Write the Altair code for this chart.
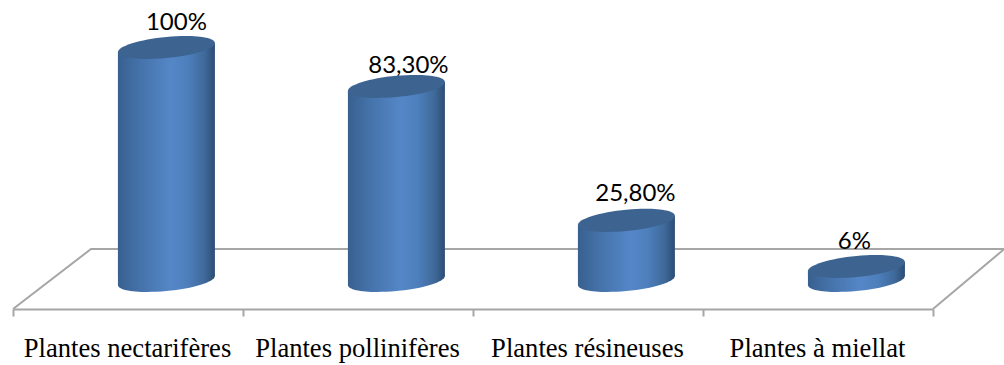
import altair as alt
import pandas as pd

# Chart values
categories = ["Plantes nectarifères", "Plantes pollinifères", "Plantes résineuses", "Plantes à miellat"]
values = [100, 83.3, 25.8, 6]
value_labels = ["100%", "83,30%", "25,80%", "6%"]

# Pseudo-3D geometry, in axis units (one category = 1 on x, one percent = 1 on y)
PLOT_W, PLOT_H = 920, 309
UNIT_X = PLOT_W / 4
UNIT_Y = 2.33
Y_MIN, Y_MAX = -28.5 / UNIT_Y, 280.5 / UNIT_Y
CENTER = 0.667
RADIUS = 48.5 / UNIT_X
TILT = 4.5 / UNIT_Y
FLOOR_DX, FLOOR_BACK, FLOOR_RIGHT = 78 / UNIT_X, 31.5 / UNIT_Y, 4.31

LINE_GREY = "#a6a6a6"
CAP_BLUE = "#3d6491"


def tilted_ellipse_path(tilt=4.5 / 48.5, minor=10.6 / 48.5, k=0.5523):
    """Cylinder cap as a sheared ellipse, in the unit box used by custom symbols."""
    def pt(cx, sy):
        return f"{cx:.4f},{minor * sy - tilt * cx:.4f}"
    return (
        f"M{pt(1, 0)}C{pt(1, k)} {pt(k, 1)} {pt(0, 1)}"
        f"C{pt(-k, 1)} {pt(-1, k)} {pt(-1, 0)}"
        f"C{pt(-1, -k)} {pt(-k, -1)} {pt(0, -1)}"
        f"C{pt(k, -1)} {pt(1, -k)} {pt(1, 0)}Z"
    )


CAP_SHAPE = tilted_ellipse_path()
CAP_SIZE = 97 ** 2

side_gradient = alt.Gradient(
    gradient="linear", x1=0, x2=1, y1=0, y2=0,
    stops=[
        alt.GradientStop(color="#38608f", offset=0),
        alt.GradientStop(color="#4472a9", offset=0.22),
        alt.GradientStop(color="#5587c8", offset=0.55),
        alt.GradientStop(color="#4d7fbc", offset=0.72),
        alt.GradientStop(color="#3e6898", offset=0.9),
        alt.GradientStop(color="#2c4c74", offset=1),
    ],
)

centers = [i + CENTER for i in range(len(categories))]
cyl = pd.DataFrame({"cat": categories, "value": values, "cx": centers, "base": [0] * 4})

# Side wall: a parallelogram per cylinder, following the tilt of the caps
side_rows = []
for name, value, cx in zip(categories, values, centers):
    side_rows.append({"cat": name, "x": cx - RADIUS, "top": value - TILT, "bottom": -TILT})
    side_rows.append({"cat": name, "x": cx + RADIUS, "top": value + TILT, "bottom": TILT})
sides = pd.DataFrame(side_rows)

x_q = alt.X("x:Q", scale=alt.Scale(domain=[0, 4]), axis=None)
y_q = alt.Y("y:Q", scale=alt.Scale(domain=[Y_MIN, Y_MAX]), axis=None)

# Floor of the 3D box: left edge, back edge, right edge
floor = pd.DataFrame({
    "x": [0, FLOOR_DX, FLOOR_RIGHT, 4],
    "y": [Y_MIN, FLOOR_BACK, FLOOR_BACK, Y_MIN],
    "order": [0, 1, 2, 3],
})
floor_layer = alt.Chart(floor).mark_line(color=LINE_GREY, strokeWidth=2, clip=False).encode(
    x=x_q, y=y_q, order="order:Q"
)

# Band axis holding the category labels and the ticks between categories
axis_layer = alt.Chart(pd.DataFrame({"cat": categories})).mark_bar(opacity=0).encode(
    x=alt.X(
        "cat:N",
        sort=categories,
        scale=alt.Scale(type="band", domain=categories, paddingInner=0, paddingOuter=0),
        axis=alt.Axis(
            title=None, orient="bottom", labelAngle=0, tickBand="extent",
            domainColor=LINE_GREY, domainWidth=2, tickColor=LINE_GREY, tickWidth=2, tickSize=7,
            labelFont="Liberation Serif", labelFontSize=26.6, labelColor="#000000",
            labelPadding=40.5, labelOffset=-1, labelLimit=300, labelBaseline="alphabetic",
        ),
    )
)

side_layer = alt.Chart(sides).mark_area(fill=side_gradient, strokeWidth=0, clip=False).encode(
    x=x_q,
    y=alt.Y("top:Q", scale=alt.Scale(domain=[Y_MIN, Y_MAX]), axis=None, stack=None),
    y2="bottom:Q",
    detail="cat:N",
)

bottom_caps = alt.Chart(cyl).mark_point(
    shape=CAP_SHAPE, size=CAP_SIZE, filled=True, fill=side_gradient, strokeWidth=0, opacity=1
).encode(
    x=alt.X("cx:Q", scale=alt.Scale(domain=[0, 4]), axis=None),
    y=alt.Y("base:Q", scale=alt.Scale(domain=[Y_MIN, Y_MAX]), axis=None),
)

top_caps = alt.Chart(cyl).mark_point(
    shape=CAP_SHAPE, size=CAP_SIZE, filled=True, fill=CAP_BLUE, strokeWidth=0, opacity=1
).encode(
    x=alt.X("cx:Q", scale=alt.Scale(domain=[0, 4]), axis=None),
    y=alt.Y("value:Q", scale=alt.Scale(domain=[Y_MIN, Y_MAX]), axis=None),
)

# Value labels sit above each top cap, nudged sideways as in a spreadsheet chart
label_nudges = [(10, -25), (12, -20), (9, -26.5), (-2, -25)]
label_layers = []
for text, value, cx, (dx, dy) in zip(value_labels, values, centers, label_nudges):
    row = pd.DataFrame({"cx": [cx], "value": [value], "text": [text]})
    label_layers.append(
        alt.Chart(row).mark_text(
            font="Lato", fontSize=24, color="#000000", dx=dx, dy=dy, baseline="middle"
        ).encode(
            x=alt.X("cx:Q", scale=alt.Scale(domain=[0, 4]), axis=None),
            y=alt.Y("value:Q", scale=alt.Scale(domain=[Y_MIN, Y_MAX]), axis=None),
            text="text:N",
        )
    )

chart = (
    alt.layer(floor_layer, axis_layer, side_layer, bottom_caps, top_caps, *label_layers)
    .resolve_scale(x="independent")
    .properties(
        width=PLOT_W,
        height=PLOT_H,
        padding={"left": 13, "right": 71, "top": 0, "bottom": 56},
        autosize=alt.AutoSizeParams(type="none"),
        background="#ffffff",
    )
    .configure_view(stroke=None)
)

chart.save("out.html", embed_options={"renderer": "svg", "actions": False})
